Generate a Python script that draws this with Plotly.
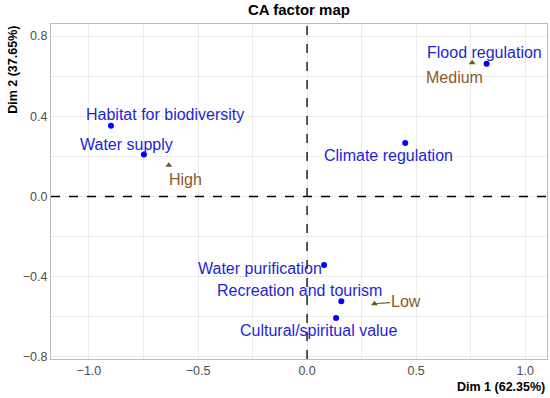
import plotly.graph_objects as go

# Active rows (ecosystem services)
row_names = ["Habitat for biodiversity", "Water supply", "Flood regulation",
             "Climate regulation", "Water purification", "Recreation and tourism",
             "Cultural/spiritual value"]
row_x = [-0.899, -0.748, 0.823, 0.450, 0.078, 0.157, 0.133]
row_y = [0.353, 0.210, 0.662, 0.267, -0.342, -0.522, -0.605]

# Supplementary columns (levels)
col_names = ["High", "Medium", "Low"]
col_x = [-0.634, 0.757, 0.309]
col_y = [0.156, 0.667, -0.534]

x_ticks = [-1.0, -0.5, 0.0, 0.5, 1.0]
y_ticks = [-0.8, -0.4, 0.0, 0.4, 0.8]

# label pixel offsets (layout only)
row_shift = [(54, 11), (-17, 10), (-2, 11), (-17, -13), (-64, -3), (-42, 11), (-17, -13)]
col_shift = [(17, -14), (-18, -15), (32, 2)]

BLUE_PT = "#0000FF"
BLUE_TX = "#1F1FD6"
BROWN_TX = "#8B5A2B"
BROWN_PT = "#6B5A1E"
FONT = "Liberation Sans, Arial, sans-serif"

fig = go.Figure()
fig.add_trace(go.Scatter(x=row_x, y=row_y, mode="markers",
                         marker=dict(color=BLUE_PT, size=6), showlegend=False))
fig.add_trace(go.Scatter(x=col_x, y=col_y, mode="markers",
                         marker=dict(color=BROWN_PT, size=6, symbol="triangle-up"),
                         showlegend=False))

ann = []
for n, x, y, (dx, dy) in zip(row_names, row_x, row_y, row_shift):
    ann.append(dict(x=x, y=y, text=n, showarrow=False, xshift=dx, yshift=dy,
                    font=dict(color=BLUE_TX, size=16, family=FONT)))
for n, x, y, (dx, dy) in zip(col_names, col_x, col_y, col_shift):
    if n == "Low":
        ann.append(dict(x=x, y=y, text=n, showarrow=True, ax=dx, ay=-dy,
                        arrowhead=0, arrowwidth=1.2, arrowcolor=BROWN_PT, standoff=2,
                        font=dict(color=BROWN_TX, size=16, family=FONT)))
    else:
        ann.append(dict(x=x, y=y, text=n, showarrow=False, xshift=dx, yshift=dy,
                        font=dict(color=BROWN_TX, size=16, family=FONT)))

ann.append(dict(xref="paper", yref="paper", x=1, y=-0.085, xanchor="right", yanchor="middle",
                text="<b>Dim 1 (62.35%)</b>", showarrow=False,
                font=dict(size=12.5, color="black", family=FONT)))
ann.append(dict(xref="paper", yref="paper", x=-0.077, y=1.0, xanchor="center", yanchor="top",
                text="<b>Dim 2 (37.65%)</b>", textangle=-90, showarrow=False,
                font=dict(size=12.5, color="black", family=FONT)))

grid = "#EBEBEB"
fig.update_layout(
    width=550, height=398,
    margin=dict(l=51, r=3, t=24, b=39, autoexpand=False),
    plot_bgcolor="white", paper_bgcolor="white",
    title=dict(text="<b>CA factor map</b>", x=0.5435, xanchor="center",
               y=0.975, yanchor="middle", font=dict(size=15, color="black", family=FONT)),
    annotations=ann,
    shapes=[
        dict(type="line", xref="x", yref="paper", x0=0, x1=0, y0=0, y1=1,
             line=dict(color="black", width=1.3, dash="dash")),
        dict(type="line", xref="paper", yref="y", x0=0, x1=1, y0=0, y1=0,
             line=dict(color="black", width=1.3, dash="dash")),
    ],
    xaxis=dict(range=[-1.174, 1.10], tickvals=x_ticks, automargin=False,
               ticktext=[f"{v:.1f}".replace("-", "\u2212") for v in x_ticks],
               showgrid=True, gridcolor=grid, gridwidth=1, zeroline=False,
               minor=dict(dtick=0.25, tick0=0, showgrid=True, gridcolor=grid, gridwidth=0.6),
               showline=True, linecolor="#BBBBBB", mirror=True, linewidth=1,
               ticks="", tickfont=dict(size=12.5, color="#4D4D4D", family=FONT)),
    yaxis=dict(range=[-0.81, 0.86], tickvals=y_ticks, automargin=False,
               ticktext=[f"{v:.1f}".replace("-", "\u2212") for v in y_ticks],
               showgrid=True, gridcolor=grid, gridwidth=1, zeroline=False,
               minor=dict(dtick=0.2, tick0=0, showgrid=True, gridcolor=grid, gridwidth=0.6),
               showline=True, linecolor="#BBBBBB", mirror=True, linewidth=1,
               ticks="", tickfont=dict(size=12.5, color="#4D4D4D", family=FONT)),
)
fig.write_html("out.html", config={"displayModeBar": False},
               post_script="document.body.style.margin='0';document.body.style.overflow='hidden';")
